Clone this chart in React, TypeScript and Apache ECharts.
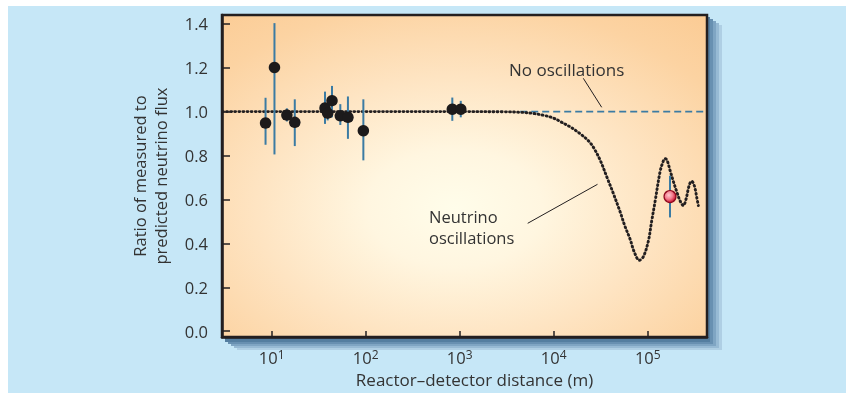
import React, { useEffect, useRef } from 'react';
import * as echarts from 'echarts';

// ---- axis ranges / ticks ----
const X_MIN = 2.96;
const X_MAX = 427000;
const Y_MIN = -0.027;
const Y_MAX = 1.44;
const yTicks = [0, 0.2, 0.4, 0.6, 0.8, 1.0, 1.2, 1.4];

// ---- reactor experiments (distance in m, measured/predicted ratio, error bar low/high) ----
const expDistance = [8.6, 10.7, 14.5, 17.6, 36.9, 39.4, 43.8, 53.7, 64.7, 94.4, 834, 1026];
const expRatio = [0.948, 1.201, 0.984, 0.951, 1.016, 0.993, 1.05, 0.981, 0.974, 0.913, 1.011, 1.011];
const expLow = [0.849, 0.805, 0.955, 0.843, 0.944, 0.96, 0.974, 0.939, 0.876, 0.778, 0.958, 0.974];
const expHigh = [1.063, 1.403, 1.015, 1.056, 1.091, 1.03, 1.117, 1.034, 1.069, 1.056, 1.064, 1.049];

// ---- KamLAND point ----
const kamDistance = [172600];
const kamRatio = [0.613];
const kamLow = [0.518];
const kamHigh = [0.708];

// ---- neutrino-oscillation prediction curve ----
const curveDistance = [
  3, 100, 1000, 3000, 4400, 6000, 8000, 10000, 11700, 15000, 19000, 23000, 26200, 31100,
  36900, 42800, 50700, 57000, 64800, 72000, 81400, 90000, 101500, 110000, 119600, 135200,
  145000, 152800, 160000, 172600, 188000, 203600, 220000, 239400, 255000, 270500, 282000,
  293800, 305000, 318600, 332000, 345300,
];
const curveRatio = [
  1.0, 1.0, 1.0, 0.999, 0.997, 0.992, 0.982, 0.97, 0.955, 0.93, 0.9, 0.87, 0.84, 0.78,
  0.7, 0.63, 0.545, 0.48, 0.42, 0.36, 0.323, 0.34, 0.41, 0.5, 0.59, 0.726,
  0.77, 0.786, 0.78, 0.733, 0.68, 0.635, 0.595, 0.572, 0.6, 0.65, 0.675,
  0.683, 0.675, 0.65, 0.61, 0.572,
];

// ---- no-oscillation reference line ----
const noOscDistance = [4400, X_MAX];
const noOscRatio = [1.0, 1.0];

const FONT = '"Open Sans", "Noto Sans", sans-serif';
const INK = '#231f20';
const TEXT = '#333333';
const BAR = '#3b7ba3';

export default function App() {
  const ref = useRef<HTMLDivElement>(null);

  useEffect(() => {
    if (!ref.current) return;
    const chart = echarts.init(ref.current, null, { renderer: 'svg' });

    const gl = 222, gt = 15, gr = 707, gb = 340;

    const shadowLayers = [
      { dx: 15, dy: 10, c: '#afcfe4' },
      { dx: 12, dy: 8, c: '#97bad4' },
      { dx: 9, dy: 6, c: '#7fa5c3' },
      { dx: 6, dy: 4, c: '#6890b1' },
      { dx: 3, dy: 2, c: '#547ea0' },
    ];

    const errData = [
      ...expDistance.map((d, i) => [d, expLow[i], expHigh[i]]),
      ...kamDistance.map((d, i) => [d, kamLow[i], kamHigh[i]]),
    ];

    const option: any = {
      animation: false,
      textStyle: { fontFamily: FONT },
      grid: {
        left: gl,
        top: gt,
        right: 846 - gr,
        bottom: 393 - gb,
        show: true,
        borderColor: INK,
        borderWidth: 2.5,
        backgroundColor: new echarts.graphic.RadialGradient(0.48, 0.6, 0.82, [
          { offset: 0, color: '#fffdea' },
          { offset: 0.22, color: '#fff6e0' },
          { offset: 0.5, color: '#fee4c2' },
          { offset: 0.78, color: '#fcd3a2' },
          { offset: 1, color: '#fbca92' },
        ]),
      },
      xAxis: {
        type: 'log',
        logBase: 10,
        min: X_MIN,
        max: X_MAX,
        name: 'Reactor–detector distance (m)',
        nameLocation: 'middle',
        nameGap: 30,
        nameTextStyle: { fontSize: 17, color: TEXT, fontFamily: FONT, padding: [0, 0, 0, 20] },
        axisLine: { show: true, onZero: false, lineStyle: { color: INK, width: 2.5 } },
        axisTick: { show: true, inside: true, length: 6, lineStyle: { color: INK, width: 1.5 } },
        splitLine: { show: false },
        axisLabel: {
          showMinLabel: false,
          showMaxLabel: false,
          margin: 11,
          color: TEXT,
          fontSize: 16.5,
          fontFamily: FONT,
          formatter: (v: number) => {
            const e = Math.round(Math.log10(v));
            return '10{sup|' + e + '}';
          },
          rich: {
            sup: { fontSize: 12, color: TEXT, fontFamily: FONT, padding: [0, 0, 7, 0] },
          },
        },
      },
      yAxis: {
        type: 'value',
        min: Y_MIN,
        max: Y_MAX,
        name: 'Ratio of measured to\npredicted neutrino flux',
        nameLocation: 'middle',
        nameGap: 51,
        nameTextStyle: { fontSize: 16.5, lineHeight: 21, color: TEXT, fontFamily: FONT },
        axisLine: { show: true, onZero: false, lineStyle: { color: INK, width: 2.5 } },
        axisTick: {
          show: true,
          inside: true,
          length: 8,
          customValues: yTicks,
          lineStyle: { color: INK, width: 1.5 },
        },
        splitLine: { show: false },
        axisLabel: {
          customValues: yTicks,
          margin: 14,
          color: TEXT,
          fontSize: 16.5,
          fontFamily: FONT,
          formatter: (v: number) => v.toFixed(1),
        },
      },
      graphic: [
        {
          type: 'rect',
          z: -100,
          silent: true,
          shape: { x: 8, y: 6, width: 846 - 8, height: 393 - 6 },
          style: { fill: '#c6e7f7' },
        },
        ...shadowLayers.map((s, i) => ({
          type: 'rect',
          z: -90 + i,
          silent: true,
          shape: { x: gl + s.dx, y: gt + s.dy, width: gr - gl, height: gb - gt },
          style: { fill: s.c },
        })),
        {
          type: 'text',
          z: 20,
          silent: true,
          x: 509,
          y: 69,
          style: {
            text: 'No oscillations',
            fill: TEXT,
            font: '17px ' + FONT,
            textVerticalAlign: 'middle',
            textAlign: 'left',
          },
        },
        {
          type: 'line',
          z: 20,
          silent: true,
          shape: { x1: 583.3, y1: 78.3, x2: 601.7, y2: 107.3 },
          style: { stroke: INK, lineWidth: 1 },
        },
        {
          type: 'text',
          z: 20,
          silent: true,
          x: 429,
          y: 226.5,
          style: {
            text: 'Neutrino\noscillations',
            fill: TEXT,
            font: '16.5px ' + FONT,
            lineHeight: 21,
            textVerticalAlign: 'middle',
            textAlign: 'left',
          },
        },
        {
          type: 'line',
          z: 20,
          silent: true,
          shape: { x1: 527.7, y1: 223.3, x2: 597.5, y2: 184.3 },
          style: { stroke: INK, lineWidth: 1 },
        },
      ],
      series: [
        {
          name: 'No oscillations',
          type: 'line',
          z: 2,
          symbol: 'none',
          data: noOscDistance.map((d, i) => [d, noOscRatio[i]]),
          lineStyle: { color: BAR, width: 1.6, type: [7, 4] },
        },
        {
          name: 'Neutrino oscillations',
          type: 'line',
          z: 3,
          symbol: 'none',
          smooth: 0.35,
          data: curveDistance.map((d, i) => [d, curveRatio[i]]),
          lineStyle: { color: INK, width: 2.9, type: [0.9, 3.2], cap: 'round' },
        },
        {
          name: 'Error bars',
          type: 'custom',
          z: 4,
          data: errData,
          encode: { x: 0, y: [1, 2] },
          renderItem: (params: any, api: any) => {
            const x = api.value(0);
            const p1 = api.coord([x, api.value(1)]);
            const p2 = api.coord([x, api.value(2)]);
            return {
              type: 'line',
              shape: { x1: p1[0], y1: p1[1], x2: p2[0], y2: p2[1] },
              style: { stroke: BAR, lineWidth: 2 },
            };
          },
        },
        {
          name: 'Reactor experiments',
          type: 'scatter',
          z: 5,
          symbol: 'circle',
          symbolSize: 11.5,
          data: expDistance.map((d, i) => [d, expRatio[i]]),
          itemStyle: { color: '#1c1a1b', opacity: 1 },
        },
        {
          name: 'KamLAND',
          type: 'scatter',
          z: 6,
          symbol: 'circle',
          symbolSize: 12,
          data: kamDistance.map((d, i) => [d, kamRatio[i]]),
          itemStyle: {
            opacity: 1,
            color: new echarts.graphic.RadialGradient(0.4, 0.38, 0.62, [
              { offset: 0, color: '#ffc8cf' },
              { offset: 0.55, color: '#f2788a' },
              { offset: 1, color: '#c8102e' },
            ]),
            borderColor: '#8e0a1f',
            borderWidth: 1.2,
          },
        },
      ],
    };

    chart.setOption(option);
    return () => chart.dispose();
  }, []);

  return (
    <div
      ref={ref}
      style={{ position: 'fixed', left: 0, top: 0, width: 846, height: 393 }}
    />
  );
}
